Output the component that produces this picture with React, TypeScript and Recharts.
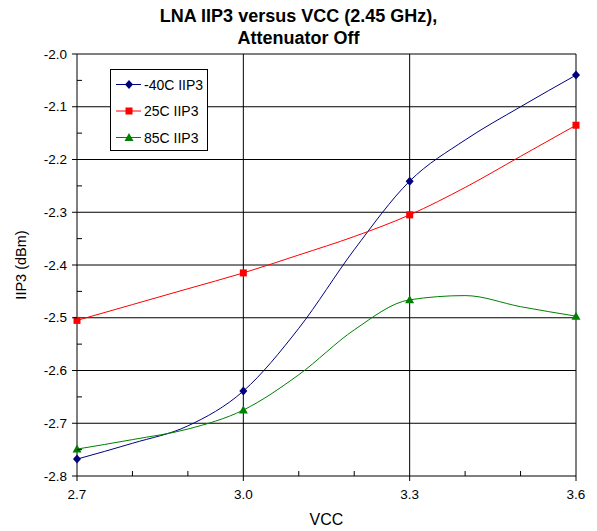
import { CartesianGrid, Legend, Line, LineChart, XAxis, YAxis } from "recharts";

// VCC sweep (V) and IIP3 (dBm) per temperature
const VCC = [2.7, 2.8, 2.9, 3.0, 3.1, 3.2, 3.3, 3.4, 3.5, 3.6];
const IIP3_M40C = [-2.768, -2.738, -2.705, -2.639, -2.52, -2.371, -2.241, -2.163, -2.1, -2.04];
const IIP3_25C = [-2.505, -2.475, -2.445, -2.415, -2.381, -2.346, -2.305, -2.253, -2.194, -2.135];
const IIP3_85C = [-2.749, -2.731, -2.711, -2.675, -2.608, -2.523, -2.466, -2.458, -2.479, -2.497];

// only these VCC points carry a marker
const MARKED_VCC = [2.7, 3.0, 3.3, 3.6];

const X_TICKS = [2.7, 2.8, 2.9, 3.0, 3.1, 3.2, 3.3, 3.4, 3.5, 3.6];
const X_GRID = [3.0, 3.3, 3.6];
const Y_TICKS = [
  -2.8, -2.75, -2.7, -2.65, -2.6, -2.55, -2.5, -2.45, -2.4, -2.35, -2.3, -2.25,
  -2.2, -2.15, -2.1, -2.05, -2.0,
];
const Y_GRID = [-2.0, -2.1, -2.2, -2.3, -2.4, -2.5, -2.6, -2.7];

const SERIES = [
  { key: "m40", name: "-40C IIP3", color: "#000080", shape: "diamond" },
  { key: "t25", name: "25C IIP3", color: "#FF0000", shape: "square" },
  { key: "t85", name: "85C IIP3", color: "#008000", shape: "triangle" },
];

const data = VCC.map((v, i) => ({
  vcc: v,
  m40: IIP3_M40C[i],
  t25: IIP3_25C[i],
  t85: IIP3_85C[i],
}));

const FONT = "'Liberation Sans', Arial, sans-serif";

function Marker({ shape, cx, cy, color }: { shape: string; cx: number; cy: number; color: string }) {
  if (shape === "diamond") {
    return (
      <polygon
        points={`${cx},${cy - 4.5} ${cx + 4},${cy} ${cx},${cy + 4.5} ${cx - 4},${cy}`}
        fill={color}
      />
    );
  }
  if (shape === "square") {
    return <rect x={cx - 3.5} y={cy - 3.5} width={7} height={7} fill={color} />;
  }
  return (
    <polygon
      points={`${cx},${cy - 4.5} ${cx + 4.5},${cy + 3.5} ${cx - 4.5},${cy + 3.5}`}
      fill={color}
    />
  );
}

const isMajor = (v: number, step: number) => {
  const r = v / step;
  return Math.abs(r - Math.round(r)) < 1e-6;
};

function XTick(props: any) {
  const { x, y, payload } = props;
  const v = payload.value as number;
  const major = isMajor(v - 2.7, 0.3);
  return (
    <g>
      {major ? (
        <line x1={x} x2={x} y1={y} y2={y + 5} stroke="#000" />
      ) : (
        <line x1={x} x2={x} y1={y - 5} y2={y} stroke="#000" />
      )}
      {major && (
        <text x={x} y={y + 23} textAnchor="middle" fontSize={13.5} fill="#000">
          {v.toFixed(1)}
        </text>
      )}
    </g>
  );
}

function YTick(props: any) {
  const { x, y, payload } = props;
  const v = payload.value as number;
  const major = isMajor(v, 0.1);
  return (
    <g>
      {major ? (
        <line x1={x - 5} x2={x} y1={y} y2={y} stroke="#000" />
      ) : (
        <line x1={x} x2={x + 5} y1={y} y2={y} stroke="#000" />
      )}
      {major && (
        <text x={x - 10} y={y} dy="0.35em" textAnchor="end" fontSize={13.5} fill="#000">
          {v.toFixed(1)}
        </text>
      )}
    </g>
  );
}

function LegendBox() {
  return (
    <svg width={98} height={82} style={{ display: "block" }}>
      <rect x={0.5} y={0.5} width={97} height={81} fill="#fff" stroke="#000" />
      {SERIES.map((s, i) => {
        const cy = 15.5 + i * 26.5;
        return (
          <g key={s.key}>
            <line x1={6} x2={31} y1={cy} y2={cy} stroke={s.color} />
            <Marker shape={s.shape} cx={19} cy={cy} color={s.color} />
            <text x={34} y={cy} dy="0.36em" fontSize={14} fill="#000" fontFamily={FONT}>
              {s.name}
            </text>
          </g>
        );
      })}
    </svg>
  );
}

export default function App() {
  return (
    <div
      style={{
        position: "absolute",
        left: 0,
        top: 0,
        width: 597,
        height: 531,
        background: "#fff",
        fontFamily: FONT,
      }}
    >
      <div
        style={{
          position: "absolute",
          left: 0,
          top: 5,
          width: 597,
          textAlign: "center",
          fontWeight: "bold",
          fontSize: 18,
          lineHeight: "22px",
          color: "#000",
        }}
      >
        LNA IIP3 versus VCC (2.45 GHz),
        <br />
        Attenuator Off
      </div>
      <LineChart
        width={597}
        height={531}
        data={data}
        margin={{ top: 54, right: 21, bottom: 0, left: 0 }}
      >
        <CartesianGrid
          stroke="#000"
          horizontalValues={Y_GRID}
          verticalValues={X_GRID}
        />
        <XAxis
          dataKey="vcc"
          type="number"
          domain={[2.7, 3.6]}
          ticks={X_TICKS}
          interval={0}
          height={55}
          tickSize={0}
          tickMargin={0}
          tickLine={false}
          tick={<XTick />}
          axisLine={{ stroke: "#000" }}
          label={{ value: "VCC", position: "insideBottom", offset: 6, fontSize: 16, fill: "#000" }}
        />
        <YAxis
          type="number"
          domain={[-2.8, -2.0]}
          ticks={Y_TICKS}
          interval={0}
          width={77}
          tickSize={0}
          tickMargin={0}
          tickLine={false}
          tick={<YTick />}
          axisLine={{ stroke: "#000" }}
          label={{
            content: (p: any) => {
              const vb = p.viewBox || {};
              const cy = (vb.y ?? 54) + (vb.height ?? 422) / 2;
              return (
                <text
                  x={21}
                  y={cy}
                  transform={`rotate(-90 21 ${cy})`}
                  textAnchor="middle"
                  dominantBaseline="central"
                  fontSize={14.5}
                  fill="#000"
                >
                  IIP3 (dBm)
                </text>
              );
            },
          }}
        />
        {SERIES.map((s) => (
          <Line
            key={s.key}
            dataKey={s.key}
            name={s.name}
            type="monotone"
            stroke={s.color}
            strokeWidth={1}
            isAnimationActive={false}
            dot={(p: any) =>
              MARKED_VCC.includes(p.payload.vcc) ? (
                <Marker key={`${s.key}-${p.index}`} shape={s.shape} cx={p.cx} cy={p.cy} color={s.color} />
              ) : (
                <g key={`${s.key}-${p.index}`} />
              )
            }
            activeDot={false}
          />
        ))}
        <Legend
          layout="vertical"
          align="center"
          verticalAlign="middle"
          wrapperStyle={{ left: 110, top: 69, width: 98, height: 82 }}
          content={() => <LegendBox />}
        />
      </LineChart>
    </div>
  );
}
